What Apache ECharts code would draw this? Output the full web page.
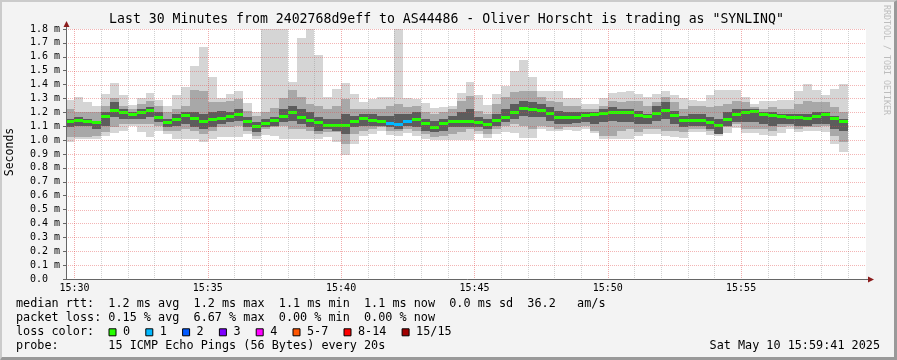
<!DOCTYPE html>
<html><head><meta charset="utf-8">
<script src="https://cdn.jsdelivr.net/npm/echarts@6/dist/echarts.min.js"></script>
<style>html,body{margin:0;padding:0;background:#f3f3f3}#c{width:897px;height:360px}</style>
</head><body><div id="c"></div>
<script>
// ---------- data ----------
const titleText = 'Last 30 Minutes from 2402768d9eff to AS44486 - Oliver Horscht is trading as "SYNLINQ"';
const viewStart = 1781;   // seconds after 15:00:00  (15:29:41)
const viewEnd = 3581;     // 15:59:41
const firstColumn = 1780; // 15:29:40
const step = 20;          // seconds per sample
const xTickValues = [1800, 2100, 2400, 2700, 3000, 3300];
const xTickLabels = ['15:30', '15:35', '15:40', '15:45', '15:50', '15:55'];
const yTicks = [0, 0.1, 0.2, 0.3, 0.4, 0.5, 0.6, 0.7, 0.8, 0.9, 1.0, 1.1, 1.2, 1.3, 1.4, 1.5, 1.6, 1.7, 1.8];

// median rtt (ms)
const median = [1.136,1.144,1.134,1.124,1.172,1.211,1.199,1.182,1.201,1.211,1.165,1.129,1.151,1.175,1.153,1.134,1.148,1.153,1.167,1.184,1.134,1.096,1.122,1.139,1.170,1.199,1.165,1.144,1.124,1.105,
1.105,1.105,1.134,1.156,1.144,1.134,1.122,1.112,1.134,1.146,1.120,1.093,1.122,1.136,1.136,1.136,1.124,1.115,1.141,1.165,1.199,1.225,1.222,1.213,1.189,1.165,1.165,1.165,1.177,1.184,
1.194,1.199,1.199,1.199,1.177,1.167,1.194,1.213,1.177,1.144,1.144,1.144,1.124,1.105,1.146,1.182,1.199,1.208,1.187,1.175,1.167,1.165,1.160,1.153,1.167,1.182,1.158,1.136];
// outermost pings (light smoke)
const outerHi = [1.292,1.309,1.278,1.249,1.333,1.411,1.325,1.254,1.301,1.340,1.289,1.244,1.325,1.380,1.536,1.668,1.457,1.301,1.333,1.354,1.268,1.206,1.850,1.850,1.850,1.421,1.737,1.850,1.615,1.309,
1.368,1.411,1.333,1.278,1.297,1.311,1.311,1.850,1.301,1.297,1.268,1.230,1.237,1.249,1.340,1.416,1.325,1.254,1.333,1.388,1.500,1.577,1.452,1.356,1.356,1.356,1.301,1.301,1.261,1.258,
1.301,1.340,1.349,1.354,1.333,1.309,1.333,1.354,1.325,1.301,1.292,1.285,1.325,1.361,1.361,1.361,1.309,1.261,1.285,1.285,1.292,1.292,1.355,1.405,1.358,1.325,1.366,1.405];
const outerLo = [0.986,1.010,1.010,1.010,1.029,1.053,1.069,1.105,1.062,1.026,1.069,1.045,1.010,1.010,1.010,0.990,1.010,1.022,1.019,1.019,1.045,1.010,1.038,1.033,1.010,1.010,1.010,1.010,1.010,1.022,
0.986,0.895,0.969,1.033,1.045,1.069,1.038,1.029,1.053,1.029,1.010,1.002,0.998,0.998,0.998,0.998,1.045,1.014,1.045,1.057,1.053,1.014,1.014,1.081,1.069,1.069,1.074,1.069,1.081,1.053,
1.010,1.010,1.010,1.010,1.029,1.045,1.045,1.029,1.022,1.014,1.057,1.057,1.038,1.029,1.053,1.086,1.053,1.053,1.038,1.029,1.053,1.081,1.057,1.069,1.069,1.057,0.970,0.912];
// middle pings (medium smoke)
const midHi = [1.225,1.201,1.206,1.201,1.249,1.301,1.249,1.225,1.261,1.285,1.249,1.201,1.225,1.249,1.364,1.356,1.273,1.273,1.285,1.297,1.213,1.177,1.201,1.230,1.301,1.364,1.309,1.261,1.249,1.225,
1.249,1.297,1.225,1.225,1.225,1.225,1.249,1.261,1.237,1.249,1.201,1.189,1.201,1.225,1.285,1.321,1.213,1.189,1.261,1.309,1.344,1.356,1.356,1.309,1.285,1.273,1.249,1.249,1.225,1.225,
1.249,1.285,1.273,1.285,1.285,1.249,1.273,1.309,1.273,1.225,1.249,1.249,1.237,1.249,1.261,1.285,1.273,1.237,1.225,1.237,1.225,1.225,1.261,1.285,1.273,1.273,1.237,1.201];
const midLo = [1.022,1.022,1.022,1.029,1.057,1.093,1.117,1.117,1.117,1.117,1.105,1.069,1.069,1.081,1.069,1.045,1.069,1.093,1.093,1.105,1.069,1.033,1.081,1.093,1.105,1.081,1.081,1.069,1.045,1.057,
1.057,0.974,1.045,1.069,1.081,1.093,1.069,1.069,1.081,1.069,1.045,1.022,1.033,1.045,1.057,1.081,1.069,1.045,1.081,1.105,1.117,1.105,1.081,1.105,1.093,1.081,1.093,1.093,1.105,1.069,
1.033,1.033,1.069,1.081,1.057,1.081,1.081,1.069,1.069,1.057,1.081,1.081,1.069,1.057,1.093,1.117,1.081,1.081,1.081,1.069,1.093,1.105,1.081,1.093,1.093,1.105,1.033,0.986];
// inner pings (dark smoke)
const innerHi = [1.153,1.165,1.153,1.141,1.201,1.273,1.225,1.201,1.225,1.237,1.201,1.153,1.189,1.201,1.201,1.189,1.201,1.213,1.201,1.225,1.165,1.129,1.153,1.165,1.225,1.249,1.225,1.201,1.165,1.153,
1.153,1.189,1.177,1.189,1.189,1.177,1.177,1.189,1.189,1.201,1.153,1.141,1.153,1.177,1.201,1.225,1.165,1.153,1.189,1.225,1.261,1.285,1.273,1.261,1.237,1.213,1.201,1.201,1.201,1.201,
1.225,1.237,1.225,1.225,1.213,1.189,1.249,1.273,1.213,1.177,1.189,1.189,1.165,1.153,1.201,1.225,1.225,1.225,1.201,1.201,1.189,1.189,1.189,1.189,1.201,1.201,1.177,1.153];
const innerLo = [1.093,1.105,1.105,1.081,1.105,1.165,1.153,1.153,1.153,1.165,1.129,1.093,1.105,1.117,1.093,1.081,1.093,1.117,1.129,1.141,1.093,1.062,1.093,1.105,1.129,1.141,1.117,1.093,1.069,1.077,
1.069,1.045,1.093,1.105,1.105,1.105,1.093,1.081,1.105,1.093,1.069,1.057,1.069,1.093,1.093,1.093,1.093,1.081,1.105,1.129,1.153,1.177,1.165,1.165,1.141,1.117,1.117,1.124,1.129,1.117,
1.129,1.141,1.129,1.129,1.117,1.117,1.141,1.153,1.117,1.093,1.105,1.105,1.081,1.045,1.105,1.129,1.129,1.129,1.117,1.105,1.117,1.117,1.105,1.105,1.117,1.117,1.081,1.069];
// lost pings per sample (of 15)
const loss = [0,0,0,0,0,0,0,0,0,0,0,0,0,0,0,0,0,0,0,0,0,0,0,0,0,0,0,0,0,0,
0,0,0,0,0,0,1,1,1,0,0,0,0,0,0,0,0,0,0,0,0,0,0,0,0,0,0,0,0,0,
0,0,0,0,0,0,0,0,0,0,0,0,0,0,0,0,0,0,0,0,0,0,0,0,0,0,0,0];

const lossLegend = [['0','#26ff00'],['1','#00b8ff'],['2','#0059ff'],['3','#7e00ff'],['4','#ff00ff'],['5-7','#ff5500'],['8-14','#ff0000'],['15/15','#a10000']];
const lossColorByCount = ['#26ff00','#00b8ff','#0059ff','#7e00ff','#ff00ff','#ff5500','#ff5500','#ff5500'];

const legendLines = [
  'median rtt:  1.2 ms avg  1.2 ms max  1.1 ms min  1.1 ms now  0.0 ms sd  36.2   am/s',
  'packet loss: 0.15 % avg  6.67 % max  0.00 % min  0.00 % now',
  'loss color:',
  'probe:       15 ICMP Echo Pings (56 Bytes) every 20s'
];
const dateText = 'Sat May 10 15:59:41 2025';

// ---------- layout / style ----------
const MONO = '"DejaVu Sans Mono", monospace';
const GL = 66, GT = 29, GW = 800, GH = 250;
const smokeColors = ['#d5d5d5', '#a8a8a8', '#5c5c5c'];

const colStart = median.map((_, i) => firstColumn + step * i);
const smokeData = median.map((m, i) => [colStart[i], colStart[i] + step, outerLo[i], outerHi[i], midLo[i], midHi[i], innerLo[i], innerHi[i], m, loss[i]]);
const minuteLines = [];
for (let t = 1800; t < viewEnd; t += 60) minuteLines.push(t);

function clip(r, cs) {
  return echarts.graphic.clipRectByRect(r, { x: cs.x, y: cs.y, width: cs.width, height: cs.height });
}

function renderSmoke(params, api) {
  const cs = params.coordSys;
  const xa = Math.round(api.coord([api.value(0), 0])[0]);
  const xb = Math.round(api.coord([api.value(1), 0])[0]);
  const children = [];
  const pairs = [[2, 3], [4, 5], [6, 7]];
  pairs.forEach((p, j) => {
    const yTop = Math.round(api.coord([api.value(0), api.value(p[1])])[1]);
    const yBot = Math.round(api.coord([api.value(0), api.value(p[0])])[1]);
    const r = clip({ x: xa, y: yTop, width: xb - xa, height: yBot - yTop }, cs);
    if (r) children.push({ type: 'rect', shape: r, style: { fill: smokeColors[j] } });
  });
  const ym = api.coord([api.value(0), api.value(8)])[1];
  const r = clip({ x: xa, y: Math.round(ym - 1.5), width: xb - xa, height: 3 }, cs);
  if (r) children.push({ type: 'rect', shape: r, style: { fill: lossColorByCount[api.value(9)] } });
  return { type: 'group', children };
}

function renderVGrid(params, api) {
  const cs = params.coordSys;
  const t = api.value(0);
  const x = Math.round(api.coord([t, 0])[0]) + 0.5;
  const major = (t % 300) === 0;
  return { type: 'line', shape: { x1: x, y1: cs.y, x2: x, y2: cs.y + cs.height },
    style: { stroke: major ? 'rgba(225,70,70,0.45)' : 'rgba(140,140,140,0.4)', lineWidth: 1, lineDash: [1, 1] } };
}
function renderHGrid(params, api) {
  const cs = params.coordSys;
  const y = Math.round(api.coord([viewStart, api.value(0)])[1]) + 0.5;
  return { type: 'line', shape: { x1: cs.x, y1: y, x2: cs.x + cs.width, y2: y },
    style: { stroke: 'rgba(225,70,70,0.4)', lineWidth: 1, lineDash: [1, 1] } };
}

// graphics: frame, titles, legend
const graphics = [];
graphics.push({ type: 'polygon', shape: { points: [[0,0],[897,0],[895,2],[2,2],[2,358],[0,360]] }, style: { fill: '#cbcbcb' }, silent: true });
graphics.push({ type: 'polygon', shape: { points: [[897,0],[897,360],[0,360],[2,357],[894,357],[894,2]] }, style: { fill: '#999999' }, silent: true });
graphics.push({ type: 'text', x: 446.5, y: 19.5, style: { text: titleText, font: '13.2px ' + MONO, fill: '#000', textAlign: 'center', textVerticalAlign: 'middle' } });
graphics.push({ type: 'text', x: 10, y: 152, rotation: Math.PI / 2, style: { text: 'Seconds', font: '11.5px ' + MONO, fill: '#000', textAlign: 'center', textVerticalAlign: 'middle' } });
graphics.push({ type: 'text', x: 886, y: 60, rotation: -Math.PI / 2, style: { text: 'RRDTOOL / TOBI OETIKER', font: '8.3px ' + MONO, fill: '#bdbdbd', textAlign: 'center', textVerticalAlign: 'middle' } });
// axes with arrows
graphics.push({ type: 'line', z: 50, shape: { x1: GL + 0.5, y1: GT + GH, x2: GL + 0.5, y2: GT - 5 }, style: { stroke: '#666', lineWidth: 1 } });
graphics.push({ type: 'line', z: 50, shape: { x1: GL, y1: GT + GH + 0.5, x2: GL + GW + 3, y2: GT + GH + 0.5 }, style: { stroke: '#666', lineWidth: 1 } });
graphics.push({ type: 'polygon', z: 51, shape: { points: [[GL - 2.5, GT - 2], [GL + 3.5, GT - 2], [GL + 0.5, GT - 8]] }, style: { fill: '#8b1c1c' } });
graphics.push({ type: 'polygon', z: 51, shape: { points: [[GL + GW + 2, GT + GH - 2.5], [GL + GW + 2, GT + GH + 3.5], [GL + GW + 8, GT + GH + 0.5]] }, style: { fill: '#8b1c1c' } });
// legend lines
const legendY = [304.3, 318.3, 332.3, 346.3];
legendLines.forEach((s, i) => {
  graphics.push({ type: 'text', x: 16, y: legendY[i], style: { text: s, font: '11.8px ' + MONO, fill: '#000', textAlign: 'left', textVerticalAlign: 'middle' } });
});
let bx = 108.5;
lossLegend.forEach(([lab, col]) => {
  graphics.push({ type: 'rect', shape: { x: bx + 0.5, y: legendY[2] - 3.5, width: 7, height: 7 }, style: { fill: col, stroke: '#000', lineWidth: 1 } });
  const lx = bx + 14.5;
  graphics.push({ type: 'text', x: lx, y: legendY[2], style: { text: lab, font: '11.8px ' + MONO, fill: '#000', textAlign: 'left', textVerticalAlign: 'middle' } });
  bx = lx + lab.length * 7.1 + 15.2;
});
graphics.push({ type: 'text', x: 880, y: legendY[3], style: { text: dateText, font: '11.8px ' + MONO, fill: '#000', textAlign: 'right', textVerticalAlign: 'middle' } });

const chart = echarts.init(document.getElementById('c'), null, { renderer: 'canvas' });
chart.setOption({
  backgroundColor: '#f3f3f3',
  animation: false,
  grid: { left: GL, top: GT, width: GW, height: GH, show: true, backgroundColor: '#ffffff', borderWidth: 0 },
  xAxis: {
    type: 'value', min: viewStart, max: viewEnd,
    axisLine: { show: false }, axisTick: { show: false }, splitLine: { show: false },
    axisLabel: {
      customValues: xTickValues, margin: 4, color: '#000', fontFamily: 'DejaVu Sans Mono', fontSize: 10,
      formatter: v => xTickLabels[xTickValues.indexOf(v)] || ''
    }
  },
  yAxis: {
    type: 'value', min: 0, max: 1.8, interval: 0.1,
    axisLine: { show: false },
    axisTick: { show: true, length: 3, lineStyle: { color: '#666' } },
    splitLine: { show: false },
    axisLabel: { margin: 6, color: '#000', fontFamily: 'DejaVu Sans Mono', fontSize: 10,
      formatter: v => (Math.abs(v) < 1e-9 ? '0.0  ' : v.toFixed(1) + ' m') }
  },
  graphic: graphics,
  series: [
    { type: 'custom', name: 'smoke', renderItem: renderSmoke, data: smokeData, z: 2, encode: { x: [0, 1], y: [2, 3] } },
    { type: 'custom', name: 'vgrid', renderItem: renderVGrid, data: minuteLines.map(t => [t]), z: 5, silent: true, encode: { x: 0 } },
    { type: 'custom', name: 'hgrid', renderItem: renderHGrid, data: yTicks.slice(1).map(v => [v]), z: 5, silent: true, encode: { y: 0 } }
  ]
});
</script></body></html>
